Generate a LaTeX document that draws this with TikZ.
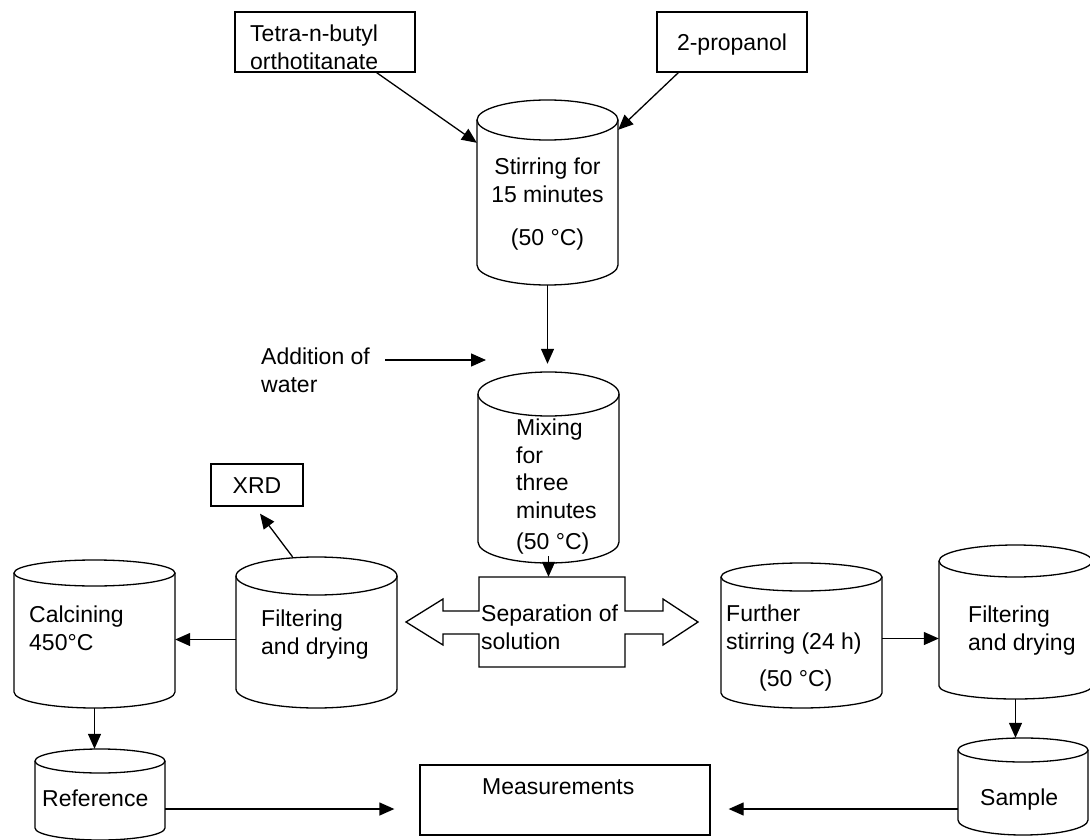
\documentclass[tikz,border=0pt]{standalone}
\usepackage{fontspec}
\setmainfont{Liberation Sans}
\usetikzlibrary{arrows.meta}
\begin{document}
\begin{tikzpicture}
[x=1pt, y=-1pt,
  boxdecorate/.style={shape=rectangle,draw,line width=1.3pt,inner sep=0pt,
    text height=16.5pt,text depth=0pt,font=\fontsize{23}{27.5}\selectfont},
  textdecorate/.style={inner sep=0pt,align=left,anchor=north west,
    font=\fontsize{23}{27.5}\selectfont},
  drumdecorate/.style={line width=1.3pt},
  linedecorate/.style={line width=1.3pt,-{Triangle[length=15pt,width=13pt]}}]
\useasboundingbox (0,0) rectangle (1090,840);
%% boxes
\node[boxdecorate, minimum width=180pt, minimum height=60pt] (tetra) at (325,42) {};
\node[boxdecorate, minimum width=150pt, minimum height=60pt] (propanol) at (732,42) {2-propanol};
\node[boxdecorate, minimum width=92pt, minimum height=42pt] (xrd) at (257,485) {XRD};
\node[boxdecorate, minimum width=290pt, minimum height=70pt] (meas) at (565,800) {};
%% drums: name/left/right/top/top radius/bottom/bottom radius
\foreach \drumname/\xa/\xb/\yt/\rt/\yb/\rb in {stir/477/618/120/20/265/20,
  mix/478/619/394/22/542/21, filtl/236/397/576/19/689/19,
  calcin/14/175/573/13/692/16, ref/35/165/761/12/828/12,
  further/721/882/577/14/693/15, filtr/939/1092/561/16/686/13,
  sample/958/1088/750/12/820/15}
{
  \pgfmathsetmacro{\xc}{(\xa+\xb)/2}
  \pgfmathsetmacro{\rx}{(\xb-\xa)/2}
  \draw[drumdecorate] (\xc,\yt) ellipse [x radius=\rx, y radius=\rt];
  \draw[drumdecorate] (\xa,\yt) -- (\xa,\yb)
    arc [start angle=180, end angle=0, x radius=\rx, y radius=\rb] -- (\xb,\yt);
  \node (\drumname) [inner sep=0pt, minimum width={(\xb-\xa)*1pt},
    minimum height={(\yb+\rb-\yt+\rt)*1pt}] at (\xc,{(\yt-\rt+\yb+\rb)/2}) {};
}
%% separation
\node (sep) [inner sep=0pt, minimum width=146pt, minimum height=90pt] at (552,622) {};
\draw[drumdecorate] (479,577) -- (625,577) -- (625,611) -- (663,611) -- (663,599)
  -- (698,622) -- (663,645) -- (663,634) -- (625,634) -- (625,667) -- (479,667)
  -- (479,634) -- (443,634) -- (443,645) -- (406,622) -- (443,599) -- (443,611)
  -- (479,611) -- cycle;
%% texts
\node[textdecorate] (tetratxt) at (250,25) {Tetra-n-butyl\\orthotitanate};
\node[textdecorate, align=center, anchor=north] (stirtxt) at (547.5,158)
  {Stirring for\\15 minutes\\[16pt](50 °C)};
\node[textdecorate] (water) at (261,348) {Addition of\\water};
\coordinate (waterin) at (486,360);
\node[textdecorate] (mixtxt) at (516,419) {Mixing\\for\\three\\minutes\\[4pt](50 °C)};
\node[textdecorate] (septxt) at (481,605) {Separation of\\solution};
\node[textdecorate] (filtltxt) at (261,610) {Filtering\\and drying};
\node[textdecorate] (calcintxt) at (29,606) {Calcining\\450°C};
\node[textdecorate] (reftxt) at (42,790) {Reference};
\node[textdecorate] (furthertxt) at (726,605)
  {Further\\stirring (24 h)\\[10pt]\hspace*{33pt}(50 °C)};
\node[textdecorate] (filtrtxt) at (968,606) {Filtering\\and drying};
\node[textdecorate] (sampletxt) at (980,789) {Sample};
\node[textdecorate] (meastxt) at (482,778) {Measurements};
%% arrows
\draw[linedecorate] ([xshift=-39pt]tetra.south east) -- ([yshift=-43pt]stir.north west);
\draw[linedecorate] ([xshift=22pt]propanol.south west) -- ([yshift=-30pt]stir.north east);
\draw[linedecorate, shorten >=8pt] (stir.south) -- (stir.south |- mix.north);
\draw[linedecorate] ([xshift=15pt,yshift=-12pt]water.north east) -- (waterin);
\draw[linedecorate] ([yshift=7pt]mix.south) -- (mix.south |- sep.north);
\draw[linedecorate] ([xshift=-24pt]filtl.north) -- ([xshift=3pt,yshift=-7pt]xrd.south);
\draw[linedecorate] ([yshift=-7pt]filtl.west) -- ([yshift=-7pt]filtl.west -| calcin.east);
\draw[linedecorate] (calcin.south) -- (calcin.south |- ref.north);
\draw[linedecorate, shorten >=25pt] ([yshift=-9pt]meas.west -| ref.east) -- ([yshift=-9pt]meas.west);
\draw[linedecorate, shorten >=18pt] ([yshift=-9pt]meas.east -| sample.west) -- ([yshift=-9pt]meas.east);
\draw[linedecorate] ([yshift=-3pt]further.east) -- ([yshift=-3pt]further.east -| filtr.west);
\draw[linedecorate] (filtr.south) -- (filtr.south |- sample.north);
\end{tikzpicture}
\end{document}
